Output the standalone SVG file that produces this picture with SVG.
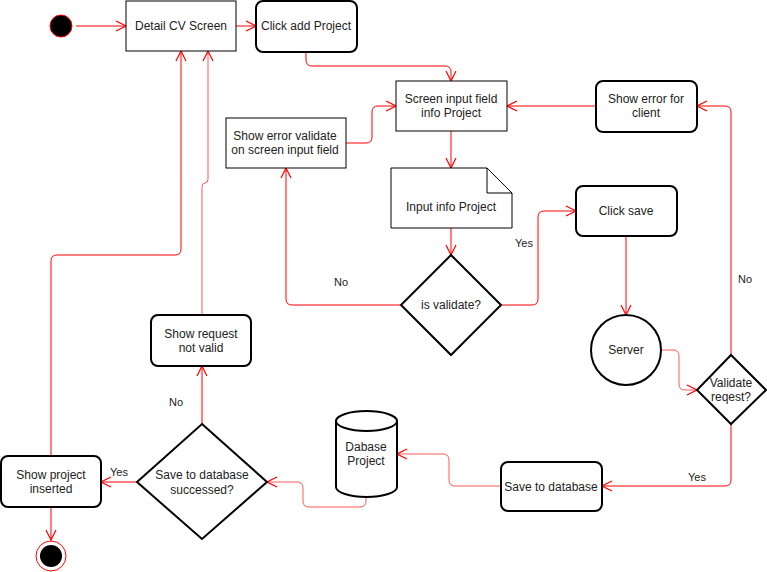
<svg xmlns="http://www.w3.org/2000/svg" width="767" height="572" viewBox="0 0 767 572">
<defs>
<marker id="arr" markerUnits="userSpaceOnUse" markerWidth="12" markerHeight="12" viewBox="0 0 12 12" refX="11" refY="6" orient="auto">
<path d="M1,1 L11,6 L1,11" fill="none" stroke="#FF0000" stroke-width="1.2"/>
</marker>
</defs>
<style>
text{font-family:"Liberation Sans",Arial,sans-serif;font-size:12px;fill:#222;text-anchor:middle;dominant-baseline:central}
.lbl{font-size:11px}
.box{fill:#fff;stroke:#000;stroke-width:1}
.rbox{fill:#fff;stroke:#000;stroke-width:2}
.edge{fill:none;stroke:#FF0000;stroke-width:1;marker-end:url(#arr)}
.soft{stroke-opacity:0.65}
</style>
<rect width="767" height="572" fill="#fff"/>
<g id="connectors">
<path class="edge" d="M76,26 L126,26"/>
<path class="edge" d="M236,26 L256,26"/>
<path class="edge" d="M306,52 L306,60 Q306,66 312,66 L445,66 Q451,66 451,72 L451,81"/>
<path class="edge" d="M596,106 L507,106"/>
<path class="edge" d="M731,355 L731,112 Q731,106 725,106 L697,106"/>
<path class="edge" d="M346,143 L366,143 Q372,143 372,137 L372,112 Q372,106 378,106 L396,106"/>
<path class="edge" d="M451,131 L451,168"/>
<path class="edge" d="M451,228 L451,255"/>
<path class="edge" d="M401,305 L292,305 Q286,305 286,299 L286,168"/>
<path class="edge" d="M502,305 L532,305 Q538,305 538,299 L538,217 Q538,211 544,211 L576,211"/>
<path class="edge" d="M626,236 L626,315"/>
<path class="edge soft" d="M661,350 L673,350 Q679,350 679,356 L679,384 Q679,390 685,390 L697,390"/>
<path class="edge" d="M731,424 L731,480 Q731,486 725,486 L602,486"/>
<path class="edge soft" d="M501,486 L455,486 Q449,486 449,480 L449,460 Q449,454 443,454 L397,454"/>
<path class="edge soft" d="M366,497 L366,501 Q366,507 360,507 L309,507 Q303,507 303,501 L303,488 Q303,482 297,482 L267,482"/>
<path class="edge" d="M137,482 L101,482"/>
<path class="edge" d="M51,507 L51,540"/>
<path class="edge" d="M202,424 L202,366"/>
<path class="edge soft" d="M202,315 L202,187 Q202,183 205,183 Q208,183 208,179 L208,51"/>
<path class="edge" d="M51,456 L51,261 Q51,255 57,255 L175,255 Q181,255 181,249 L181,51"/>
<text class="lbl" x="341" y="282">No</text>
<text class="lbl" x="524" y="243">Yes</text>
<text class="lbl" x="745" y="279">No</text>
<text class="lbl" x="697" y="477">Yes</text>
<text class="lbl" x="119" y="472">Yes</text>
<text class="lbl" x="176" y="402">No</text>
</g>
<g id="start"><circle cx="61" cy="26" r="11" fill="#000" stroke="#FF0000" stroke-width="1"/></g>
<g id="detail-cv"><rect class="box" x="126" y="1" width="110" height="50"/><text x="181" y="26">Detail CV Screen</text></g>
<g id="click-add"><rect class="rbox" x="256" y="1" width="101" height="51" rx="7"/><text x="306" y="26">Click add Project</text></g>
<g id="screen-input"><rect class="box" x="396" y="81" width="111" height="50"/><text x="451" y="99">Screen input field</text><text x="451" y="113">info Project</text></g>
<g id="show-error-client"><rect class="rbox" x="596" y="81" width="101" height="51" rx="7"/><text x="646" y="99">Show error for</text><text x="646" y="113">client</text></g>
<g id="show-error-validate"><rect class="box" x="226" y="118" width="120" height="50"/><text x="285" y="136">Show error validate</text><text x="285" y="150">on screen input field</text></g>
<g id="input-info"><path class="box" d="M391,168 L487,168 L512,193 L512,228 L391,228 Z"/><path d="M487,168 L487,193 L512,193" fill="none" stroke="#000" stroke-width="1"/><text x="451" y="207">Input info Project</text></g>
<g id="is-validate"><path class="rbox" d="M451,255 L501,305 L451,355 L401,305 Z"/><text x="451" y="305">is validate?</text></g>
<g id="click-save"><rect class="rbox" x="576" y="186" width="101" height="50" rx="7"/><text x="626" y="211">Click save</text></g>
<g id="server"><circle class="rbox" cx="626" cy="350" r="35"/><text x="626" y="350">Server</text></g>
<g id="validate-request"><path class="rbox" d="M731,355 L766,390 L731,424 L697,390 Z"/><text x="731" y="383">Validate</text><text x="731" y="397">reqest?</text></g>
<g id="save-db"><rect class="rbox" x="501" y="462" width="101" height="49" rx="7"/><text x="551" y="487">Save to database</text></g>
<g id="database"><path class="rbox" d="M336,421 A30.5,10 0 0 1 397,421 L397,487 A30.5,10 0 0 1 336,487 Z"/><path d="M336,421 A30.5,10 0 0 0 397,421" fill="none" stroke="#000" stroke-width="2"/><text x="366" y="447">Dabase</text><text x="366" y="461">Project</text></g>
<g id="save-success"><path class="rbox" d="M202,424 L267,482 L202,539 L137,482 Z"/><text x="202" y="475">Save to database</text><text x="202" y="490">successed?</text></g>
<g id="show-request-invalid"><rect class="rbox" x="151" y="315" width="100" height="51" rx="7"/><text x="201" y="334">Show request</text><text x="201" y="348">not valid</text></g>
<g id="show-project-inserted"><rect class="rbox" x="1" y="456" width="100" height="51" rx="7"/><text x="51" y="475">Show project</text><text x="51" y="489">inserted</text></g>
<g id="end"><circle cx="51" cy="556" r="15" fill="#fff" stroke="#FF0000" stroke-width="1"/><circle cx="51" cy="556" r="11" fill="#000"/></g>
</svg>
